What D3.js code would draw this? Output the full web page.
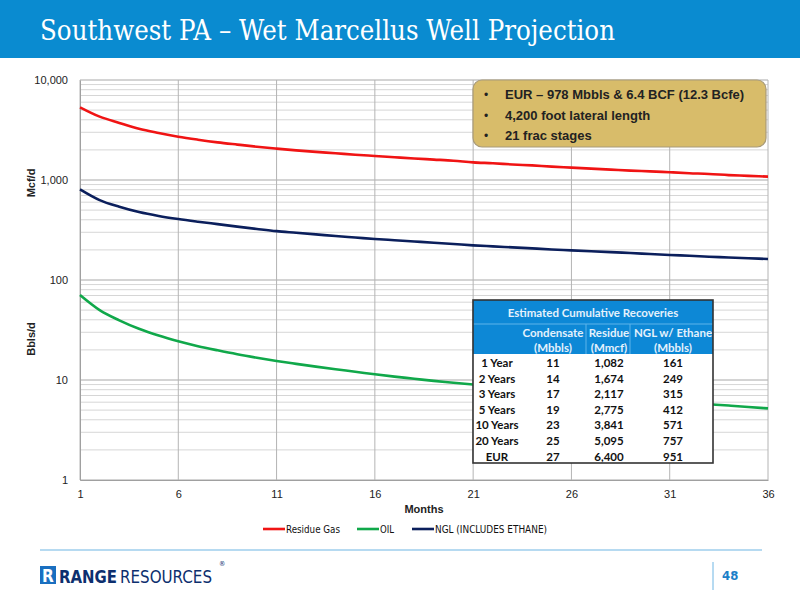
<!DOCTYPE html>
<html>
<head>
<meta charset="utf-8">
<script src="https://cdn.jsdelivr.net/npm/d3@7"></script>
<style>
  body { margin: 0; background: #fff; }
  svg { display: block; }
</style>
</head>
<body>
<svg id="viz" width="800" height="600"></svg>
<script>
// monthly rates
var months = d3.range(1, 37);
var residueGas = [5330, 4300, 3720, 3250, 2950, 2710, 2530, 2380, 2260, 2150, 2060, 1980,
    1910, 1850, 1790, 1740, 1690, 1640, 1600, 1560, 1500, 1470, 1430, 1400,
    1360, 1330, 1300, 1270, 1240, 1220, 1195, 1170, 1150, 1120, 1100, 1080];
var oil = [70.8, 50, 39.5, 32.5, 27.8, 24.4, 21.8, 19.8, 18.1, 16.7, 15.5, 14.5,
    13.6, 12.8, 12.1, 11.4, 10.8, 10.3, 9.8, 9.4, 9.0, 8.6, 8.25, 7.9,
    7.6, 7.3, 7.0, 6.75, 6.5, 6.3, 6.1, 5.9, 5.72, 5.55, 5.38, 5.2];
var ngl = [807, 630, 540, 478, 437, 407, 383, 362, 342, 324, 308, 297,
    286, 275, 266, 257, 250, 243, 236, 229, 222, 217, 212, 207,
    202, 198, 194, 190, 186, 182, 178, 175, 171, 168, 165, 162];

var yTicks = [1, 10, 100, 1000, 10000];
var xTicks = [1, 6, 11, 16, 21, 26, 31, 36];

var seriesNames = ["Residue Gas", "OIL", "NGL (INCLUDES ETHANE)"];
var seriesColors = ["#f01414", "#10a84a", "#0b1f5c"];

var calloutLines = ["EUR \u2013 978 Mbbls & 6.4 BCF (12.3 Bcfe)",
    "4,200 foot lateral length", "21 frac stages"];

var tableRows = ["1 Year", "2 Years", "3 Years", "5 Years", "10 Years", "20 Years", "EUR"];
var condensate = ["11", "14", "17", "19", "23", "25", "27"];
var residue = ["1,082", "1,674", "2,117", "2,775", "3,841", "5,095", "6,400"];
var nglEthane = ["161", "249", "315", "412", "571", "757", "951"];
var tableHeads = [["Condensate", "(Mbbls)"], ["Residue", "(Mmcf)"], ["NGL w/ Ethane", "(Mbbls)"]];

var svg = d3.select("#viz");
var sans = "'Liberation Sans', Arial, sans-serif";
var narrow = "'Liberation Sans Narrow', 'DejaVu Sans Condensed', sans-serif";

// title bar
svg.append("rect").attr("x", 0).attr("y", 0).attr("width", 800).attr("height", 58)
    .attr("fill", "#0a8bd0");
svg.append("text").attr("x", 40).attr("y", 40)
    .attr("font-family", "'DejaVu Serif', Georgia, serif")
    .attr("font-size", 27).attr("fill", "#fff")
    .attr("textLength", 575).attr("lengthAdjust", "spacingAndGlyphs")
    .text("Southwest PA \u2013 Wet Marcellus Well Projection");

var x = d3.scaleLinear().domain([1, 36]).range([80, 768]);
var y = d3.scaleLog().domain([1, 10000]).range([480, 80]);

// grid
var minor = [];
[1, 10, 100, 1000].forEach(function(d){
    for(var k = 2; k <= 9; k++) minor.push(d * k);
});
var grid = svg.append("g");
grid.selectAll(".minor").data(minor).enter().append("line")
    .attr("x1", x(1)).attr("x2", x(36))
    .attr("y1", function(d){ return y(d); }).attr("y2", function(d){ return y(d); })
    .attr("stroke", "#d6d6d6").attr("stroke-width", 1);
grid.selectAll(".major").data(yTicks).enter().append("line")
    .attr("x1", x(1)).attr("x2", x(36))
    .attr("y1", function(d){ return y(d); }).attr("y2", function(d){ return y(d); })
    .attr("stroke", "#a8a8a8").attr("stroke-width", 1);
grid.selectAll(".vert").data(xTicks).enter().append("line")
    .attr("x1", function(d){ return x(d); }).attr("x2", function(d){ return x(d); })
    .attr("y1", y(10000)).attr("y2", y(1))
    .attr("stroke", "#b4b4b4").attr("stroke-width", 1);

// axes
var yAxis = svg.append("g").attr("transform", "translate(" + x(1) + ",0)")
    .call(d3.axisLeft(y).tickValues(yTicks).tickFormat(d3.format(",")).tickSize(0).tickPadding(12));
var xAxis = svg.append("g").attr("transform", "translate(0," + y(1) + ")")
    .call(d3.axisBottom(x).tickValues(xTicks).tickFormat(d3.format("d")).tickSize(0).tickPadding(10));
[yAxis, xAxis].forEach(function(a){
    a.select(".domain").attr("stroke", "#a0a0a0");
    a.selectAll("text").attr("font-family", sans).attr("font-size", 11).attr("fill", "#222");
});

svg.append("text").attr("transform", "translate(35,183) rotate(-90)")
    .attr("text-anchor", "middle").attr("font-family", sans).attr("font-weight", "bold")
    .attr("font-size", 11).attr("fill", "#222").text("Mcf/d");
svg.append("text").attr("transform", "translate(35,339) rotate(-90)")
    .attr("text-anchor", "middle").attr("font-family", sans).attr("font-weight", "bold")
    .attr("font-size", 11).attr("fill", "#222").text("Bbls/d");
svg.append("text").attr("x", 424).attr("y", 513).attr("text-anchor", "middle")
    .attr("font-family", sans).attr("font-weight", "bold").attr("font-size", 11)
    .attr("fill", "#222").text("Months");

// lines
var line = d3.line()
    .x(function(d, i){ return x(months[i]); })
    .y(function(d){ return y(d); })
    .curve(d3.curveMonotoneX);
[residueGas, oil, ngl].forEach(function(s, i){
    svg.append("path").datum(s).attr("d", line).attr("fill", "none")
        .attr("stroke", seriesColors[i]).attr("stroke-width", 2.6);
});

// callout box
svg.append("rect").attr("x", 473).attr("y", 80).attr("width", 293).attr("height", 67)
    .attr("rx", 9).attr("fill", "#d8bc6a").attr("stroke", "#a89a78").attr("stroke-width", 1.2);
svg.selectAll(".callout").data(calloutLines).enter().append("g")
    .each(function(d, i){
        var g = d3.select(this);
        g.append("text").attr("x", 484).attr("y", 99 + i * 20.5)
            .attr("font-family", sans).attr("font-size", 12).attr("fill", "#222").text("\u2022");
        g.append("text").attr("x", 505).attr("y", 99 + i * 20.5)
            .attr("font-family", sans).attr("font-weight", "bold").attr("font-size", 13)
            .attr("fill", "#222").text(d);
    });

// recoveries table
var tx = 473, tw = 240, ty = 300, th = 163;
var colX = [497, 553, 609, 673];
var tbl = svg.append("g");
tbl.append("rect").attr("x", tx).attr("y", ty).attr("width", tw).attr("height", th)
    .attr("fill", "#fff");
tbl.append("rect").attr("x", tx).attr("y", ty).attr("width", tw).attr("height", 54)
    .attr("fill", "#0d88d6");
tbl.append("line").attr("x1", tx).attr("x2", tx + tw).attr("y1", 324).attr("y2", 324)
    .attr("stroke", "#5fb4ea").attr("stroke-width", 1);
[586, 630].forEach(function(v){
    tbl.append("line").attr("x1", v).attr("x2", v).attr("y1", 324).attr("y2", 354)
        .attr("stroke", "#5fb4ea").attr("stroke-width", 1);
});
var tfont = "Lato, 'Open Sans', sans-serif";
tbl.append("text").attr("x", tx + tw / 2).attr("y", 317).attr("text-anchor", "middle")
    .attr("font-family", tfont).attr("font-weight", "bold").attr("font-size", 11.5)
    .attr("fill", "#e4f1fc").text("Estimated Cumulative Recoveries");
tableHeads.forEach(function(h, i){
    h.forEach(function(t, j){
        tbl.append("text").attr("x", colX[i + 1]).attr("y", 337 + j * 15).attr("text-anchor", "middle")
            .attr("font-family", tfont).attr("font-weight", "bold").attr("font-size", 11.5)
            .attr("fill", "#e4f1fc").text(t);
    });
});
tbl.selectAll(".trow").data(tableRows).enter().append("g")
    .each(function(d, i){
        var g = d3.select(this);
        var yy = 367 + i * 15.6;
        [d, condensate[i], residue[i], nglEthane[i]].forEach(function(t, c){
            g.append("text").attr("x", colX[c]).attr("y", yy).attr("text-anchor", "middle")
                .attr("font-family", tfont).attr("font-weight", "bold").attr("font-size", 11.5)
                .attr("fill", "#111").text(t);
        });
    });
tbl.append("rect").attr("x", tx).attr("y", ty).attr("width", tw).attr("height", th)
    .attr("fill", "none").attr("stroke", "#333").attr("stroke-width", 1.6);

// legend
var legX = [263, 357, 412];
var legW = [54, 14, 112];
seriesNames.forEach(function(n, i){
    svg.append("line").attr("x1", legX[i]).attr("x2", legX[i] + 22).attr("y1", 529).attr("y2", 529)
        .attr("stroke", seriesColors[i]).attr("stroke-width", 2.6);
    svg.append("text").attr("x", legX[i] + 23).attr("y", 533)
        .attr("font-family", narrow).attr("font-size", 11).attr("fill", "#111")
        .attr("textLength", legW[i]).attr("lengthAdjust", "spacingAndGlyphs").text(n);
});

// footer
svg.append("line").attr("x1", 40).attr("x2", 762).attr("y1", 550).attr("y2", 550)
    .attr("stroke", "#6fb6e4").attr("stroke-width", 1.2);
svg.append("rect").attr("x", 40).attr("y", 566).attr("width", 16).attr("height", 18)
    .attr("fill", "#1a6fc0");
svg.append("text").attr("x", 48).attr("y", 582).attr("text-anchor", "middle")
    .attr("font-family", narrow).attr("font-weight", "bold").attr("font-size", 17)
    .attr("fill", "#fff").text("R");
svg.append("text").attr("x", 59).attr("y", 583)
    .attr("font-family", narrow).attr("font-weight", "bold").attr("font-size", 18)
    .attr("fill", "#0d2f6e").attr("textLength", 58).attr("lengthAdjust", "spacingAndGlyphs")
    .text("RANGE");
svg.append("text").attr("x", 120).attr("y", 583)
    .attr("font-family", narrow).attr("font-size", 18)
    .attr("fill", "#0d2f6e").attr("textLength", 92).attr("lengthAdjust", "spacingAndGlyphs")
    .text("RESOURCES");
svg.append("text").attr("x", 219).attr("y", 566)
    .attr("font-family", narrow).attr("font-size", 7).attr("fill", "#0d2f6e").text("\u00ae");
svg.append("line").attr("x1", 713).attr("x2", 713).attr("y1", 562).attr("y2", 590)
    .attr("stroke", "#6fb6e4").attr("stroke-width", 1);
svg.append("text").attr("x", 722).attr("y", 580)
    .attr("font-family", narrow).attr("font-weight", "bold").attr("font-size", 13)
    .attr("fill", "#1a80c8").text("48");
</script>
</body>
</html>
